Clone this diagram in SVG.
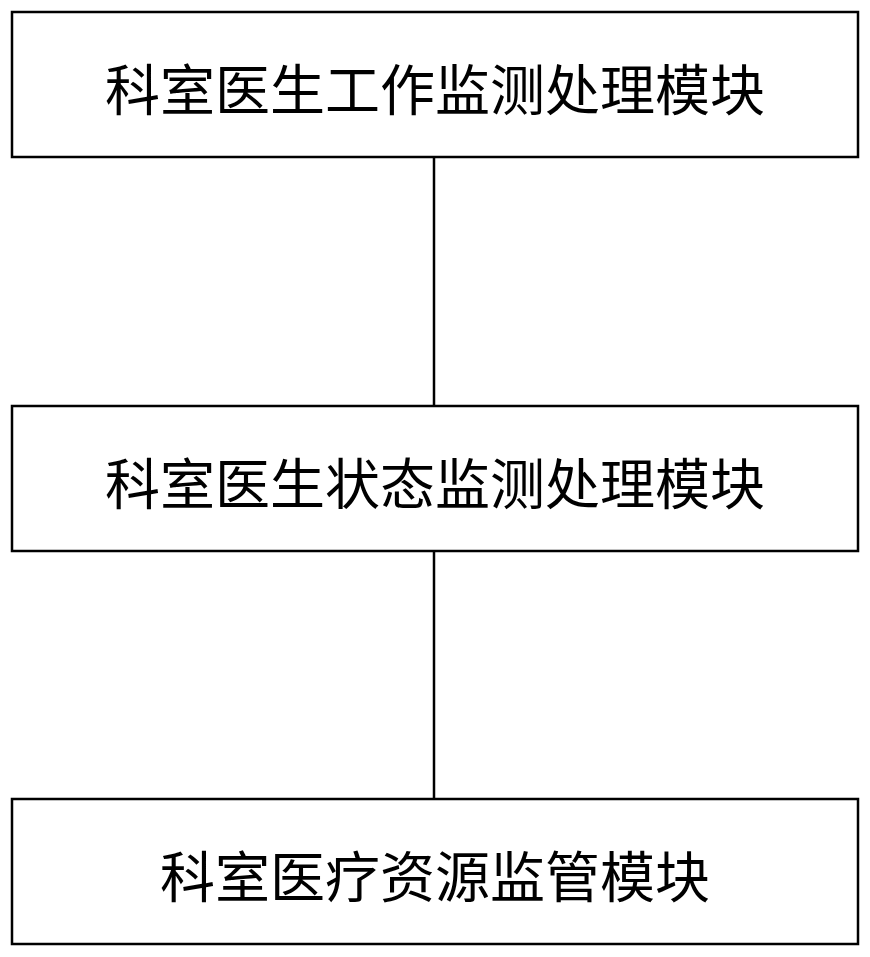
<svg xmlns="http://www.w3.org/2000/svg" width="870" height="957" viewBox="0 0 870 957">
<style>
.box{fill:#fff;stroke:#000;stroke-width:2.5}
.lbl{font-family:"Noto Sans CJK SC","Noto Sans CJK JP",sans-serif;font-size:55px;fill:#000;text-anchor:middle;dominant-baseline:central}
.conn{stroke:#000;stroke-width:2.5;fill:none}
</style>
<rect width="870" height="957" fill="#fff"/>
<g id="connectors">
<line class="conn" x1="434" y1="157" x2="434" y2="406"/>
<line class="conn" x1="434" y1="551" x2="434" y2="799"/>
</g>
<g id="node1">
<rect class="box" x="12" y="12" width="846" height="145"/>
<text class="lbl" x="435" y="86">科室医生工作监测处理模块</text>
</g>
<g id="node2">
<rect class="box" x="12" y="406" width="846" height="145"/>
<text class="lbl" x="435" y="480">科室医生状态监测处理模块</text>
</g>
<g id="node3">
<rect class="box" x="12" y="799" width="846" height="145"/>
<text class="lbl" x="435" y="873">科室医疗资源监管模块</text>
</g>
</svg>
